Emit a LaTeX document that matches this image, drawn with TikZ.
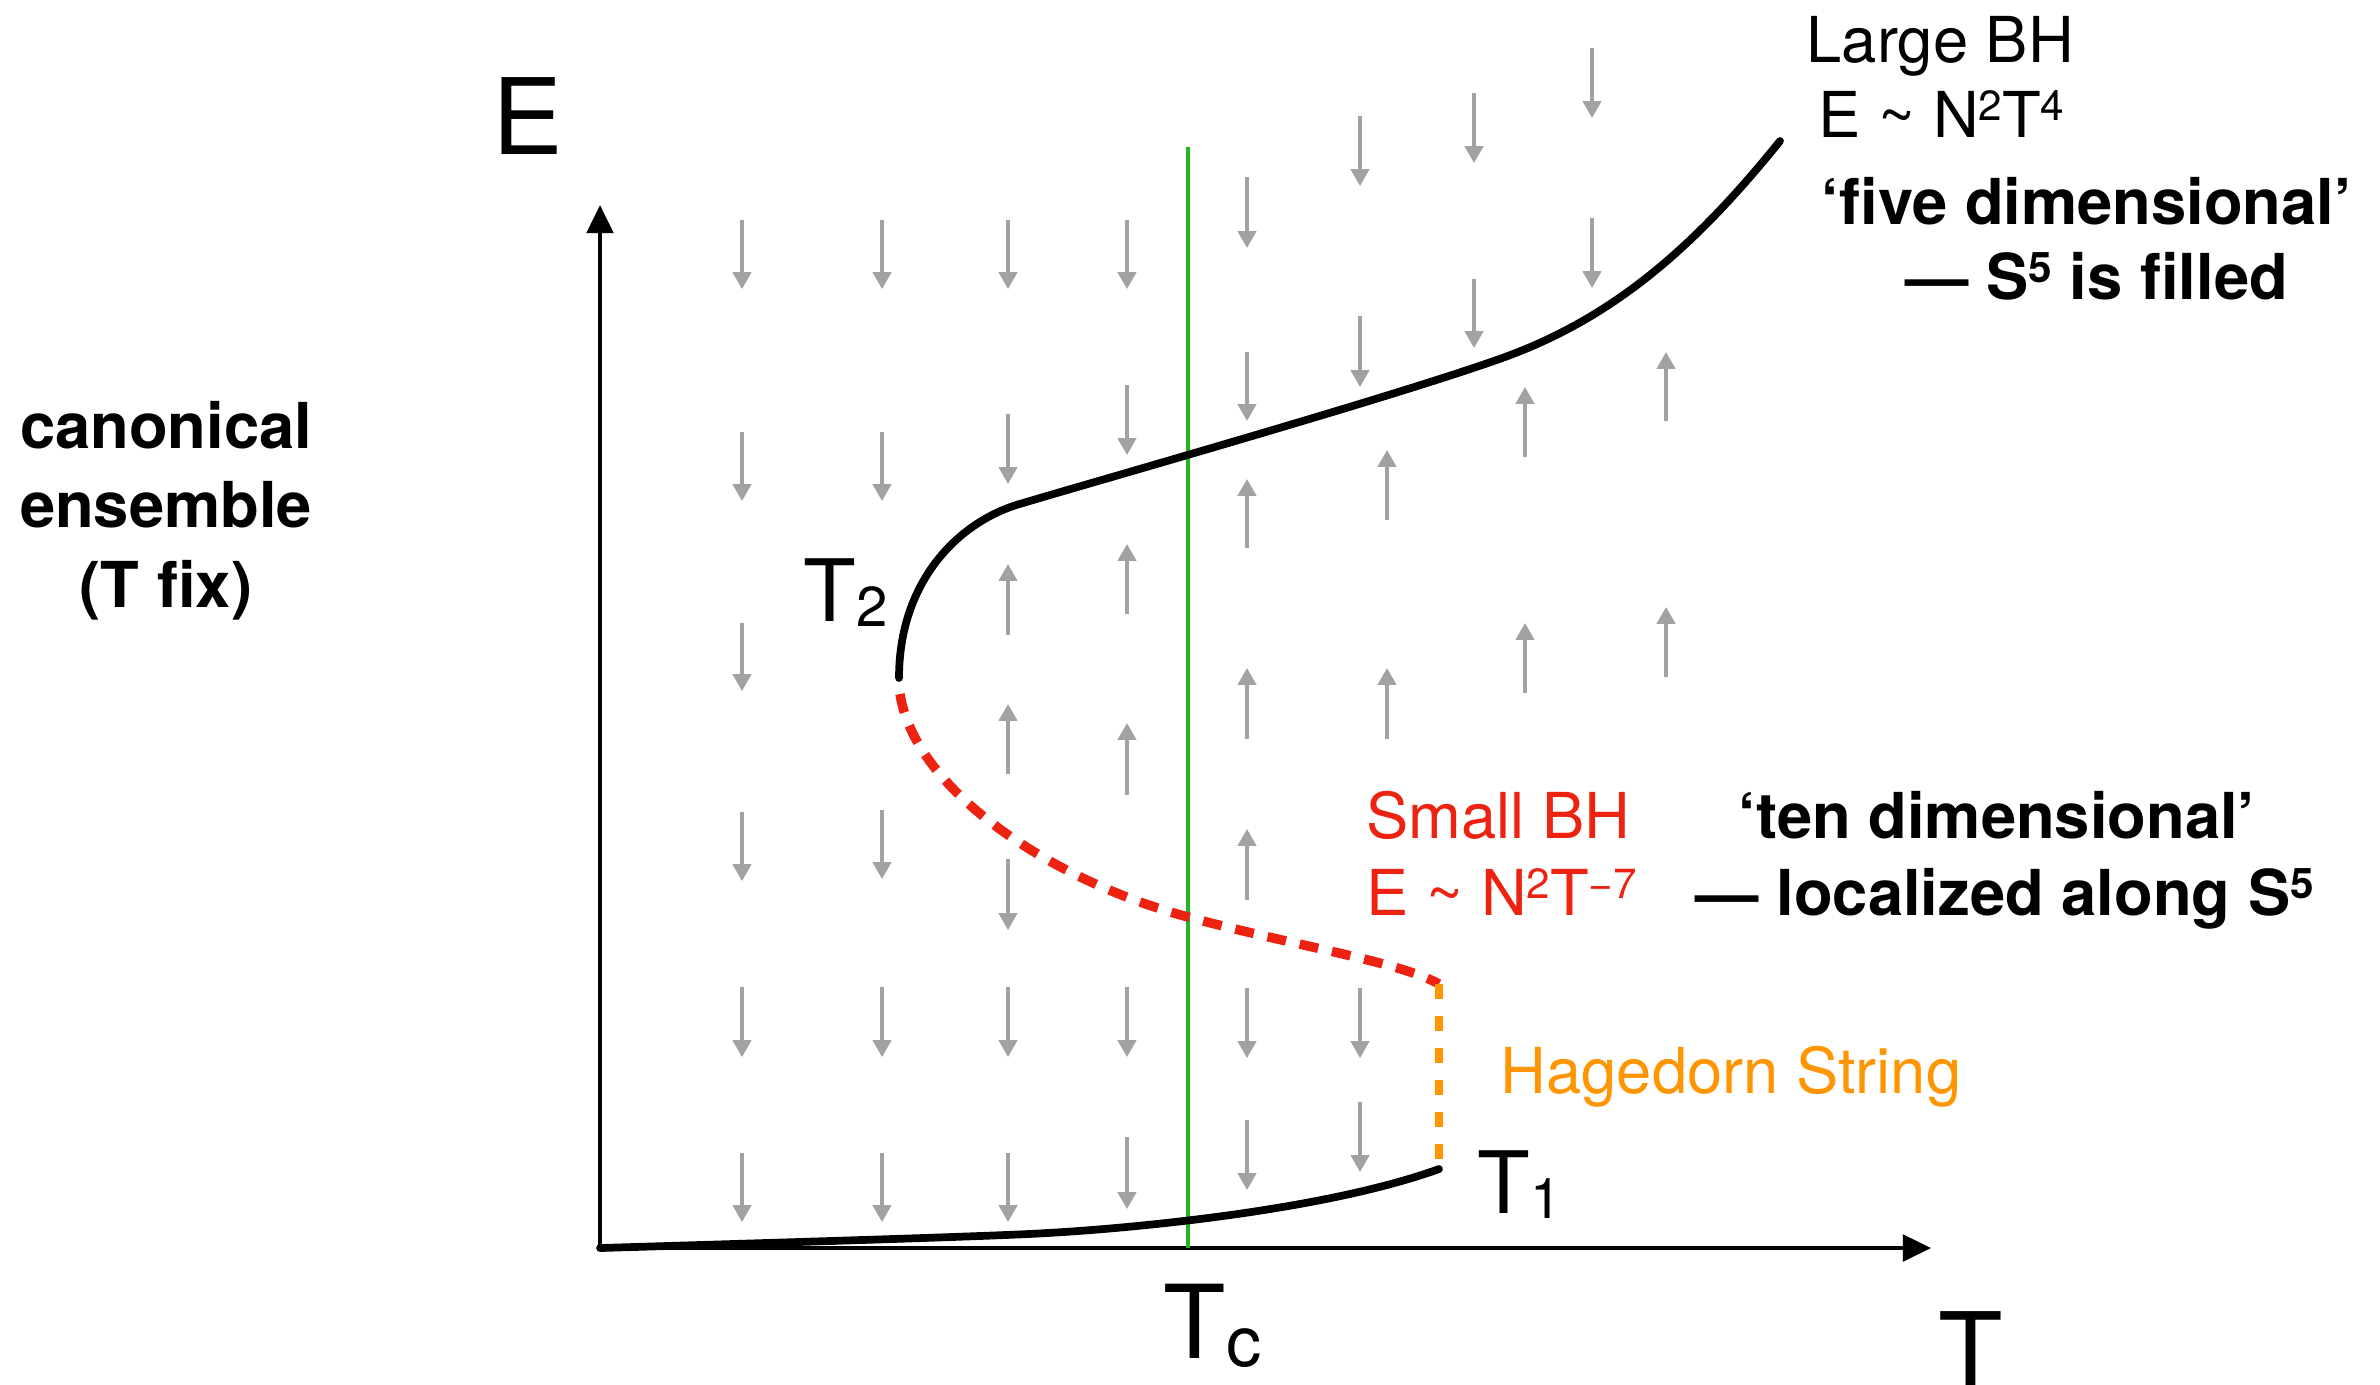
\documentclass[tikz,border=0pt]{standalone}
\usepackage{fontspec}
\setmainfont{TeX Gyre Heros}
\usepackage{xcolor}
\usepackage{tikz}
\usetikzlibrary{arrows.meta}
\definecolor{bhred}{HTML}{EE2211}
\definecolor{bhorange}{HTML}{FF9500}
\definecolor{bhgreen}{HTML}{22B422}
\definecolor{bhgrey}{HTML}{A2A2A2}
\newcommand{\upidx}[1]{\raisebox{4.8pt}{\fontsize{12}{12}\selectfont #1}}
\newcommand{\loidx}[2]{\raisebox{-#2}{\fontsize{16}{16}\selectfont #1}}

\begin{document}
\begin{tikzpicture}[x=0.01cm, y=-0.01cm, line join=round,
  drift/.style={bhgrey, line width=1pt, -{Triangle[length=4.8pt,width=5.2pt]}},
  axis/.style={black, line width=1.2pt, -{Triangle[length=8pt,width=7.5pt]}},
  branch/.style={black, line width=2.2pt, line cap=round},
  txt/.style={inner sep=0pt, anchor=base west, font=\fontsize{18}{22}\selectfont},
  btxt/.style={txt, font=\fontsize{18}{22}\selectfont\bfseries}]
  \useasboundingbox (0,0) rectangle (2380,1384);
  % axes
  \coordinate (O) at (600,1248);
  \coordinate (Etip) at (600,205);
  \coordinate (Ttip) at (1931,1248);
  \draw[axis] (O) -- (Etip);
  \draw[axis] (O) -- (Ttip);
  \node[inner sep=0pt, anchor=base, font=\fontsize{30}{30}\selectfont] (elabel) at (528,154) {E};
  \node[inner sep=0pt, anchor=base, font=\fontsize{30}{30}\selectfont] (tlabel) at (1971,1388) {T};
  % flow arrows, pointing down
  \draw[drift] (742,220) -- (742,289);
  \draw[drift] (742,432) -- (742,501);
  \draw[drift] (742,623) -- (742,691);
  \draw[drift] (742,812) -- (742,881);
  \draw[drift] (742,987) -- (742,1057);
  \draw[drift] (742,1153) -- (742,1222);
  \draw[drift] (882,220) -- (882,289);
  \draw[drift] (882,432) -- (882,501);
  \draw[drift] (882,810) -- (882,879);
  \draw[drift] (882,987) -- (882,1057);
  \draw[drift] (882,1153) -- (882,1222);
  \draw[drift] (1008,220) -- (1008,289);
  \draw[drift] (1008,414) -- (1008,484);
  \draw[drift] (1008,859) -- (1008,930);
  \draw[drift] (1008,987) -- (1008,1057);
  \draw[drift] (1008,1153) -- (1008,1222);
  \draw[drift] (1127,220) -- (1127,289);
  \draw[drift] (1127,385) -- (1127,455);
  \draw[drift] (1127,987) -- (1127,1057);
  \draw[drift] (1127,1137) -- (1127,1209);
  \draw[drift] (1247,177) -- (1247,248);
  \draw[drift] (1247,352) -- (1247,421);
  \draw[drift] (1247,988) -- (1247,1058);
  \draw[drift] (1247,1120) -- (1247,1190);
  \draw[drift] (1360,116) -- (1360,186);
  \draw[drift] (1360,316) -- (1360,387);
  \draw[drift] (1360,988) -- (1360,1058);
  \draw[drift] (1360,1102) -- (1360,1172);
  \draw[drift] (1474,93) -- (1474,163);
  \draw[drift] (1474,279) -- (1474,348);
  \draw[drift] (1592,48) -- (1592,118);
  \draw[drift] (1592,218) -- (1592,288);
  % flow arrows, pointing up
  \draw[drift] (1008,635) -- (1008,564);
  \draw[drift] (1008,774) -- (1008,704);
  \draw[drift] (1127,614) -- (1127,544);
  \draw[drift] (1127,795) -- (1127,723);
  \draw[drift] (1247,548) -- (1247,479);
  \draw[drift] (1247,739) -- (1247,668);
  \draw[drift] (1247,900) -- (1247,829);
  \draw[drift] (1387,520) -- (1387,450);
  \draw[drift] (1387,739) -- (1387,668);
  \draw[drift] (1525,457) -- (1525,387);
  \draw[drift] (1525,693) -- (1525,623);
  \draw[drift] (1666,421) -- (1666,352);
  \draw[drift] (1666,677) -- (1666,607);
  % critical temperature
  \draw[bhgreen, line width=1pt] (1188,147) -- (1188,1248);
  % branches
  \coordinate (t2) at (899,678);
  \coordinate (t1) at (1439,1169);
  \coordinate (hag) at (1439,984);
  \draw[branch] (t2) .. controls (899,580) and (960,520) .. (1023,503)
    .. controls (1100,480) and (1400,395) .. (1505,357)
    .. controls (1620,315) and (1700,240) .. (1780,141);
  \draw[bhred, line width=2.7pt, dash pattern=on 5.4pt off 4pt] (900,694)
    .. controls (915,790) and (1050,880) .. (1188,917)
    .. controls (1300,947) and (1400,962) .. (hag);
  \draw[bhorange, line width=2.5pt, dash pattern=on 4.3pt off 4.8pt] (hag) -- (t1);
  \draw[branch] (O) .. controls (800,1242) and (1000,1236) .. (1047,1233)
    .. controls (1120,1229) and (1320,1212) .. (t1);
  % temperature labels
  \node[inner sep=0pt, anchor=base west, font=\fontsize{24.5}{24.5}\selectfont] (ttwolabel) at (803,621) {T\loidx{2}{1.5pt}};
  \node[inner sep=0pt, anchor=base west, font=\fontsize{24.5}{24.5}\selectfont] (tonelabel) at (1477,1213) {T\loidx{1}{1.5pt}};
  \node[inner sep=0pt, anchor=base west, font=\fontsize{29}{29}\selectfont] (tclabel) at (1163,1358) {T\raisebox{-2.5pt}{\fontsize{20}{20}\selectfont c}};
  % large black hole
  \node[txt] (largebh) at (1806,62) {Large BH};
  \node[txt] (largeeq) at (1818,137) {E \textasciitilde\ N\upidx{2}T\upidx{4}};
  \node[btxt] (fived) at (1821,224) {‘five dimensional’};
  \node[btxt] (fivefill) at (1905,299) {— S\upidx{5} is filled};
  % small black hole
  \node[txt, bhred] (smallbh) at (1366,838) {Small BH};
  \node[txt, bhred] (smalleq) at (1366,915) {E \textasciitilde\ N\upidx{2}T\upidx{−7}};
  \node[btxt] (tend) at (1738,838) {‘ten dimensional’};
  \node[btxt] (tenloc) at (1695,915) {— localized along S\upidx{5}};
  \node[txt, bhorange] (hagedorn) at (1500,1093) {Hagedorn String};
  % ensemble
  \node[btxt, anchor=base] (canon1) at (166,448) {canonical};
  \node[btxt, anchor=base] (canon2) at (166,527) {ensemble};
  \node[btxt, anchor=base] (canon3) at (166,607) {(T fix)};
\end{tikzpicture}
\end{document}
